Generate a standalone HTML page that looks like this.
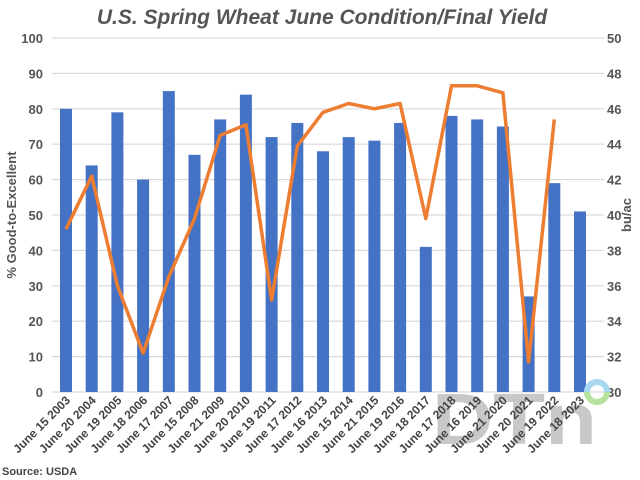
<!DOCTYPE html>
<html><head><meta charset="utf-8"><style>
html,body{margin:0;padding:0;background:#fff;}
svg{display:block;font-family:"Liberation Sans",sans-serif;}
</style></head><body>
<svg width="640" height="480" viewBox="0 0 640 480" xmlns="http://www.w3.org/2000/svg">
<text x="322" y="24" text-anchor="middle" font-size="21" font-weight="bold" font-style="italic" fill="#555">U.S. Spring Wheat June Condition/Final Yield</text>
<g id="grid" stroke="#d9d9d9" stroke-width="1.2"></g>
<g id="ll" font-size="13" font-weight="bold" fill="#555" text-anchor="end"></g>
<g id="rl" font-size="13" font-weight="bold" fill="#555" text-anchor="start"></g>
<g id="bars" fill="#4472c4"></g>
<text x="432" y="444" font-size="72" font-weight="bold" fill="#bbb" opacity="0.8" textLength="165" lengthAdjust="spacingAndGlyphs">DTn</text>
<path d="M587,392 A10,10 0 0 1 597,382 A10,10 0 0 1 607,392" fill="none" stroke="#a8d8ef" stroke-width="6"/>
<path d="M607,392 A10,10 0 0 1 597,402 A10,10 0 0 1 587,392" fill="none" stroke="#b7e3a0" stroke-width="6"/>
<g id="xl" font-size="12" fill="#444" font-weight="bold"></g>
<text transform="translate(16,215) rotate(-90)" text-anchor="middle" font-size="13" font-weight="bold" fill="#555">% Good-to-Excellent</text>
<text transform="translate(631,215) rotate(-90)" text-anchor="middle" font-size="13" font-weight="bold" fill="#555">bu/ac</text>
<polyline id="line" fill="none" stroke="#ed7d31" stroke-width="3.5" stroke-linejoin="round"/>
<text x="2" y="475" font-size="11" font-weight="bold" fill="#444">Source: USDA</text>
</svg>
<script>
var NS="http://www.w3.org/2000/svg";
function el(p,t,a,txt){var e=document.createElementNS(NS,t);for(var k in a)e.setAttribute(k,a[k]);if(txt!==undefined)e.textContent=txt;document.getElementById(p).appendChild(e);return e;}
function Y(v){return 392-v*3.54;}
for(var i=0;i<=10;i++){var y=Y(i*10);
 el("grid","line",{x1:52,x2:604,y1:y,y2:y});
 el("ll","text",{x:43,y:y+5},i*10);
 el("rl","text",{x:607,y:y+5},30+i*2);}
var bars=[80,64,79,60,85,67,77,84,72,76,68,72,71,76,41,78,77,75,27,59,51];
var labels=["June 15 2003","June 20 2004","June 19 2005","June 18 2006","June 17 2007","June 15 2008","June 21 2009","June 20 2010","June 19 2011","June 17 2012","June 16 2013","June 15 2014","June 21 2015","June 19 2016","June 18 2017","June 17 2018","June 16 2019","June 21 2020","June 20 2021","June 19 2022","June 18 2023"];
var yld=[39.2,42.2,36,32.2,36.5,39.8,44.5,45.1,35.2,43.9,45.8,46.3,46,46.3,39.8,47.3,47.3,46.9,31.7,45.4];
var pts=[];
for(var i=0;i<21;i++){var cx=66+i*25.7;
 el("bars","rect",{x:cx-6,y:Y(bars[i]),width:12,height:bars[i]*3.54});
 el("xl","text",{transform:"translate("+(cx+5)+",401) rotate(-45)","text-anchor":"end"},labels[i]);
 if(i<yld.length)pts.push(cx+","+(392-(yld[i]-30)*17.7));}
document.getElementById("line").setAttribute("points",pts.join(" "));
</script>
</body></html>
